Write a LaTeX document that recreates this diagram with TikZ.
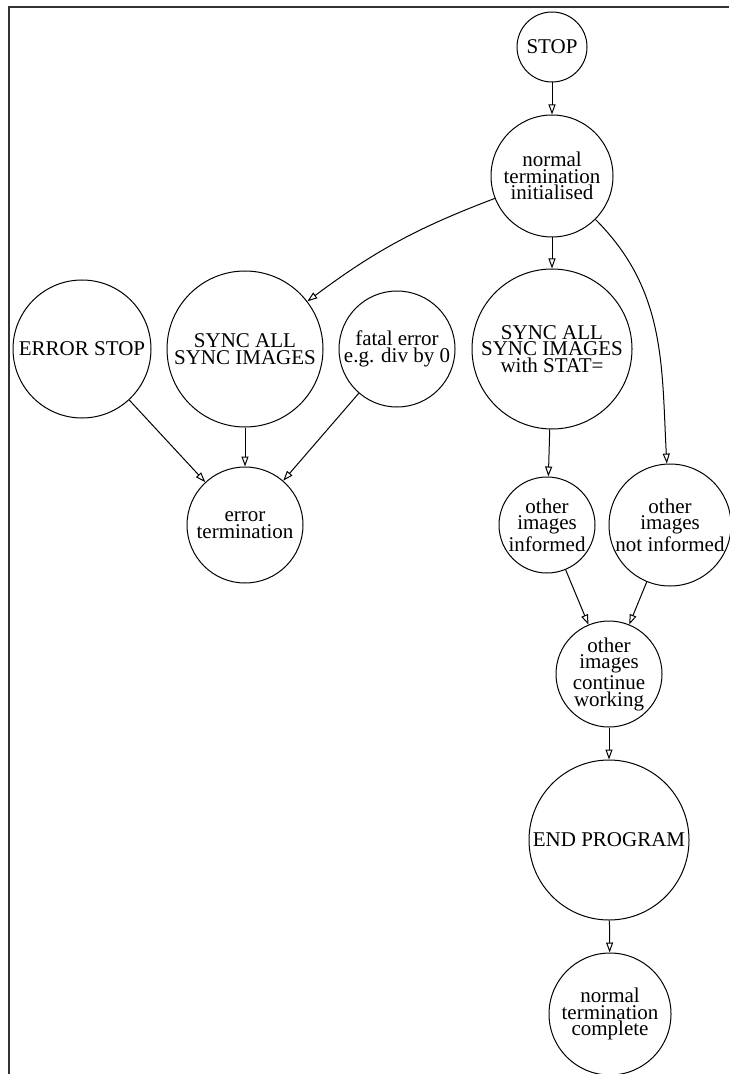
\documentclass[tikz,border=0pt]{standalone}
\usepackage{fontspec}
\setmainfont{Liberation Serif}
\usetikzlibrary{arrows.meta}
\tikzset{every picture/.style={x=0.5pt, y=-0.5pt, line width=0.5pt}}
\tikzset{state/.style={draw, circle, inner sep=0pt, align=center,
    font=\fontsize{10.5}{8.4}\selectfont}}
\tikzset{flow/.style={-{Triangle[open, length=5pt, width=3.5pt]}}}

\begin{document}
\begin{tikzpicture}
\useasboundingbox (0,0) rectangle (729,1074);
\draw[line width=0.7pt, black!80] (9,1074) -- (9,7) -- (729,7);

% normal path
\node[state, minimum size=35pt] (stop) at (552,47) {STOP};
\node[state, minimum size=61pt] (init) at (552,176) {normal\\termination\\initialised};
\node[state, minimum size=80pt] (syncstat) at (552,349) {SYNC ALL\\SYNC IMAGES\\with STAT=};
\node[state, minimum size=48pt] (informed) at (547,525) {other\\images\\informed};
\node[state, minimum size=61pt] (notinf) at (670,525) {other\\images\\not informed};
\node[state, minimum size=53pt] (cont) at (609,674) {other\\images\\continue\\working};
\node[state, minimum size=80pt] (endprog) at (609,840) {END PROGRAM};
\node[state, minimum size=61pt] (done) at (610,1014) {normal\\termination\\complete};

% error path
\node[state, minimum size=69pt] (errstop) at (82,349) {ERROR STOP};
\node[state, minimum size=78pt] (sync) at (245,349) {SYNC ALL\\SYNC IMAGES};
\node[state, minimum size=58pt] (fatal) at (397,349) {fatal error\\e.g. div by 0};
\node[state, minimum size=58pt] (errterm) at (245,525) {error\\termination};

\draw[flow] (stop) -- (init);
\draw[flow] (init) to[bend right=8] (sync);
\draw[flow] (init) -- (syncstat);
\draw[flow] (init) to[out=-45, in=93] (notinf);
\draw[flow] (syncstat) -- (informed);
\draw[flow] (informed) -- (cont);
\draw[flow] (notinf) -- (cont);
\draw[flow] (cont) -- (endprog);
\draw[flow] (endprog) -- (done);
\draw[flow] (errstop) -- (errterm);
\draw[flow] (sync) -- (errterm);
\draw[flow] (fatal) -- (errterm);
\end{tikzpicture}
\end{document}
